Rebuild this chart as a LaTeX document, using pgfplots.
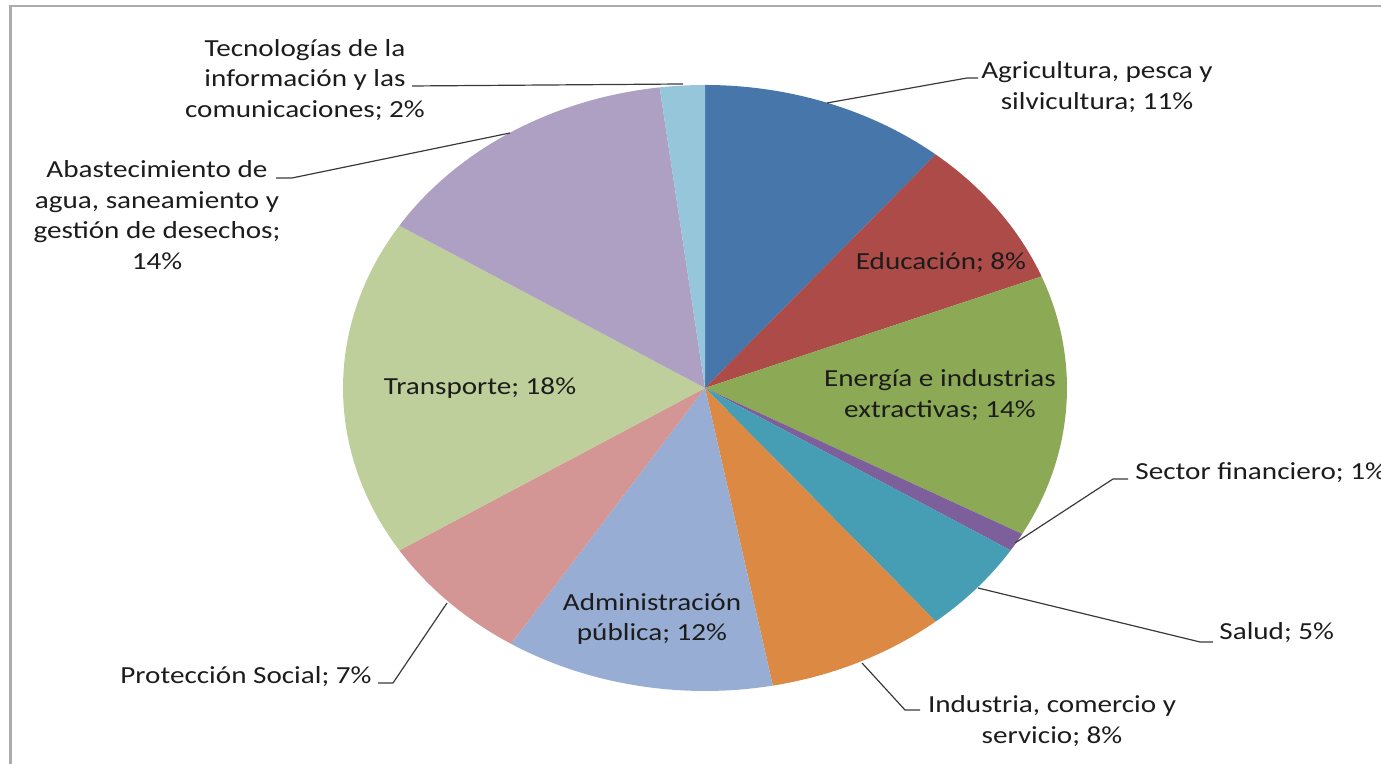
\documentclass[border=0pt]{standalone}
\usepackage{fontspec}
\setmainfont{Carlito}[FakeStretch=1.19]
\usepackage{pgfplots}
\usepackage{pgfplotstable}
\pgfplotsset{compat=1.18}

% slice colours, clockwise from the top
\definecolor{c0}{HTML}{4676AA}
\definecolor{c1}{HTML}{AC4B48}
\definecolor{c2}{HTML}{8CAA55}
\definecolor{c3}{HTML}{7D5F9B}
\definecolor{c4}{HTML}{469EB4}
\definecolor{c5}{HTML}{DC8944}
\definecolor{c6}{HTML}{98ADD4}
\definecolor{c7}{HTML}{D49694}
\definecolor{c8}{HTML}{BECF9B}
\definecolor{c9}{HTML}{AEA0C3}
\definecolor{c10}{HTML}{96C6D9}
\definecolor{txt}{HTML}{1C1C1C}
\definecolor{leader}{HTML}{3A3A3A}

\tikzset{lbl/.style={font=\fontsize{12.25}{15.25}\selectfont, text=txt, inner sep=0pt}}

% shares in percent
\pgfplotstableread{
pct
11
8
14
1
5
8
12
7
18
14
2
}\piedata

\begin{document}
\begin{tikzpicture}
\begin{axis}[
  width=690.5pt, height=382pt, scale only axis,
  xmin=0, xmax=1381, ymin=0, ymax=764,
  enlargelimits=false, hide axis, clip=false,
]
  \coordinate (SW) at (axis cs:0,0);
  \coordinate (NE) at (axis cs:1381,764);

  \xdef\cum{0}
  \pgfplotsinvokeforeach{0,...,10}{
    \pgfplotstablegetelem{#1}{pct}\of\piedata
    \pgfmathsetmacro\aA{90-3.6*\cum}
    \pgfmathsetmacro\cumnew{\cum+\pgfplotsretval}
    \pgfmathsetmacro\aB{90-3.6*\cumnew}
    \xdef\cum{\cumnew}
    \edef\temp{\noexpand\fill[c#1] (axis cs:705,376) -- ++(\aA:181pt and 151.5pt)
      arc[start angle=\aA, end angle=\aB, x radius=181pt, y radius=151.5pt] -- cycle;}
    \temp
  }

  % frame (left and top edges)
  \draw[gray!65, line width=1.3pt] (axis cs:10.5,0) -- (axis cs:10.5,758) -- (axis cs:1381,758);

  % leader lines
  \begin{scope}[leader, line width=0.6pt]
    \draw (axis cs:412,678) -- (axis cs:683,680);
    \draw (axis cs:276,586) -- (axis cs:292,586) -- (axis cs:510,631);
    \draw (axis cs:827,661) -- (axis cs:967,686) -- (axis cs:978,686);
    \draw (axis cs:1015,221) -- (axis cs:1113,285) -- (axis cs:1128,285);
    \draw (axis cs:978,176) -- (axis cs:1200,122) -- (axis cs:1213,122);
    \draw (axis cs:862,101) -- (axis cs:905,54) -- (axis cs:920,54);
    \draw (axis cs:447,161) -- (axis cs:393,81) -- (axis cs:378,81);
  \end{scope}

  % labels
  \node[lbl, align=center] at (axis cs:305,684) {Tecnologías de la\\información y las\\comunicaciones; 2\%};
  \node[lbl, align=center] at (axis cs:157,549) {Abastecimiento de\\agua, saneamiento y\\gestión de desechos;\\14\%};
  \node[lbl, align=center] at (axis cs:1097,677) {Agricultura, pesca y\\silvicultura; 11\%};
  \node[lbl] at (axis cs:941,501) {Educación; 8\%};
  \node[lbl, align=center] at (axis cs:940,369) {Energía e industrias\\extractivas; 14\%};
  \node[lbl, anchor=west] at (axis cs:1135,291) {Sector financiero; 1\%};
  \node[lbl, anchor=west] at (axis cs:1219,131) {Salud; 5\%};
  \node[lbl, align=center] at (axis cs:1052,43) {Industria, comercio y\\servicio; 8\%};
  \node[lbl, align=center] at (axis cs:652,145) {Administración\\pública; 12\%};
  \node[lbl] at (axis cs:246,87) {Protección Social; 7\%};
  \node[lbl] at (axis cs:480,376) {Transporte; 18\%};
\end{axis}
\pgfresetboundingbox
\useasboundingbox (SW) rectangle (NE);
\end{tikzpicture}
\end{document}
